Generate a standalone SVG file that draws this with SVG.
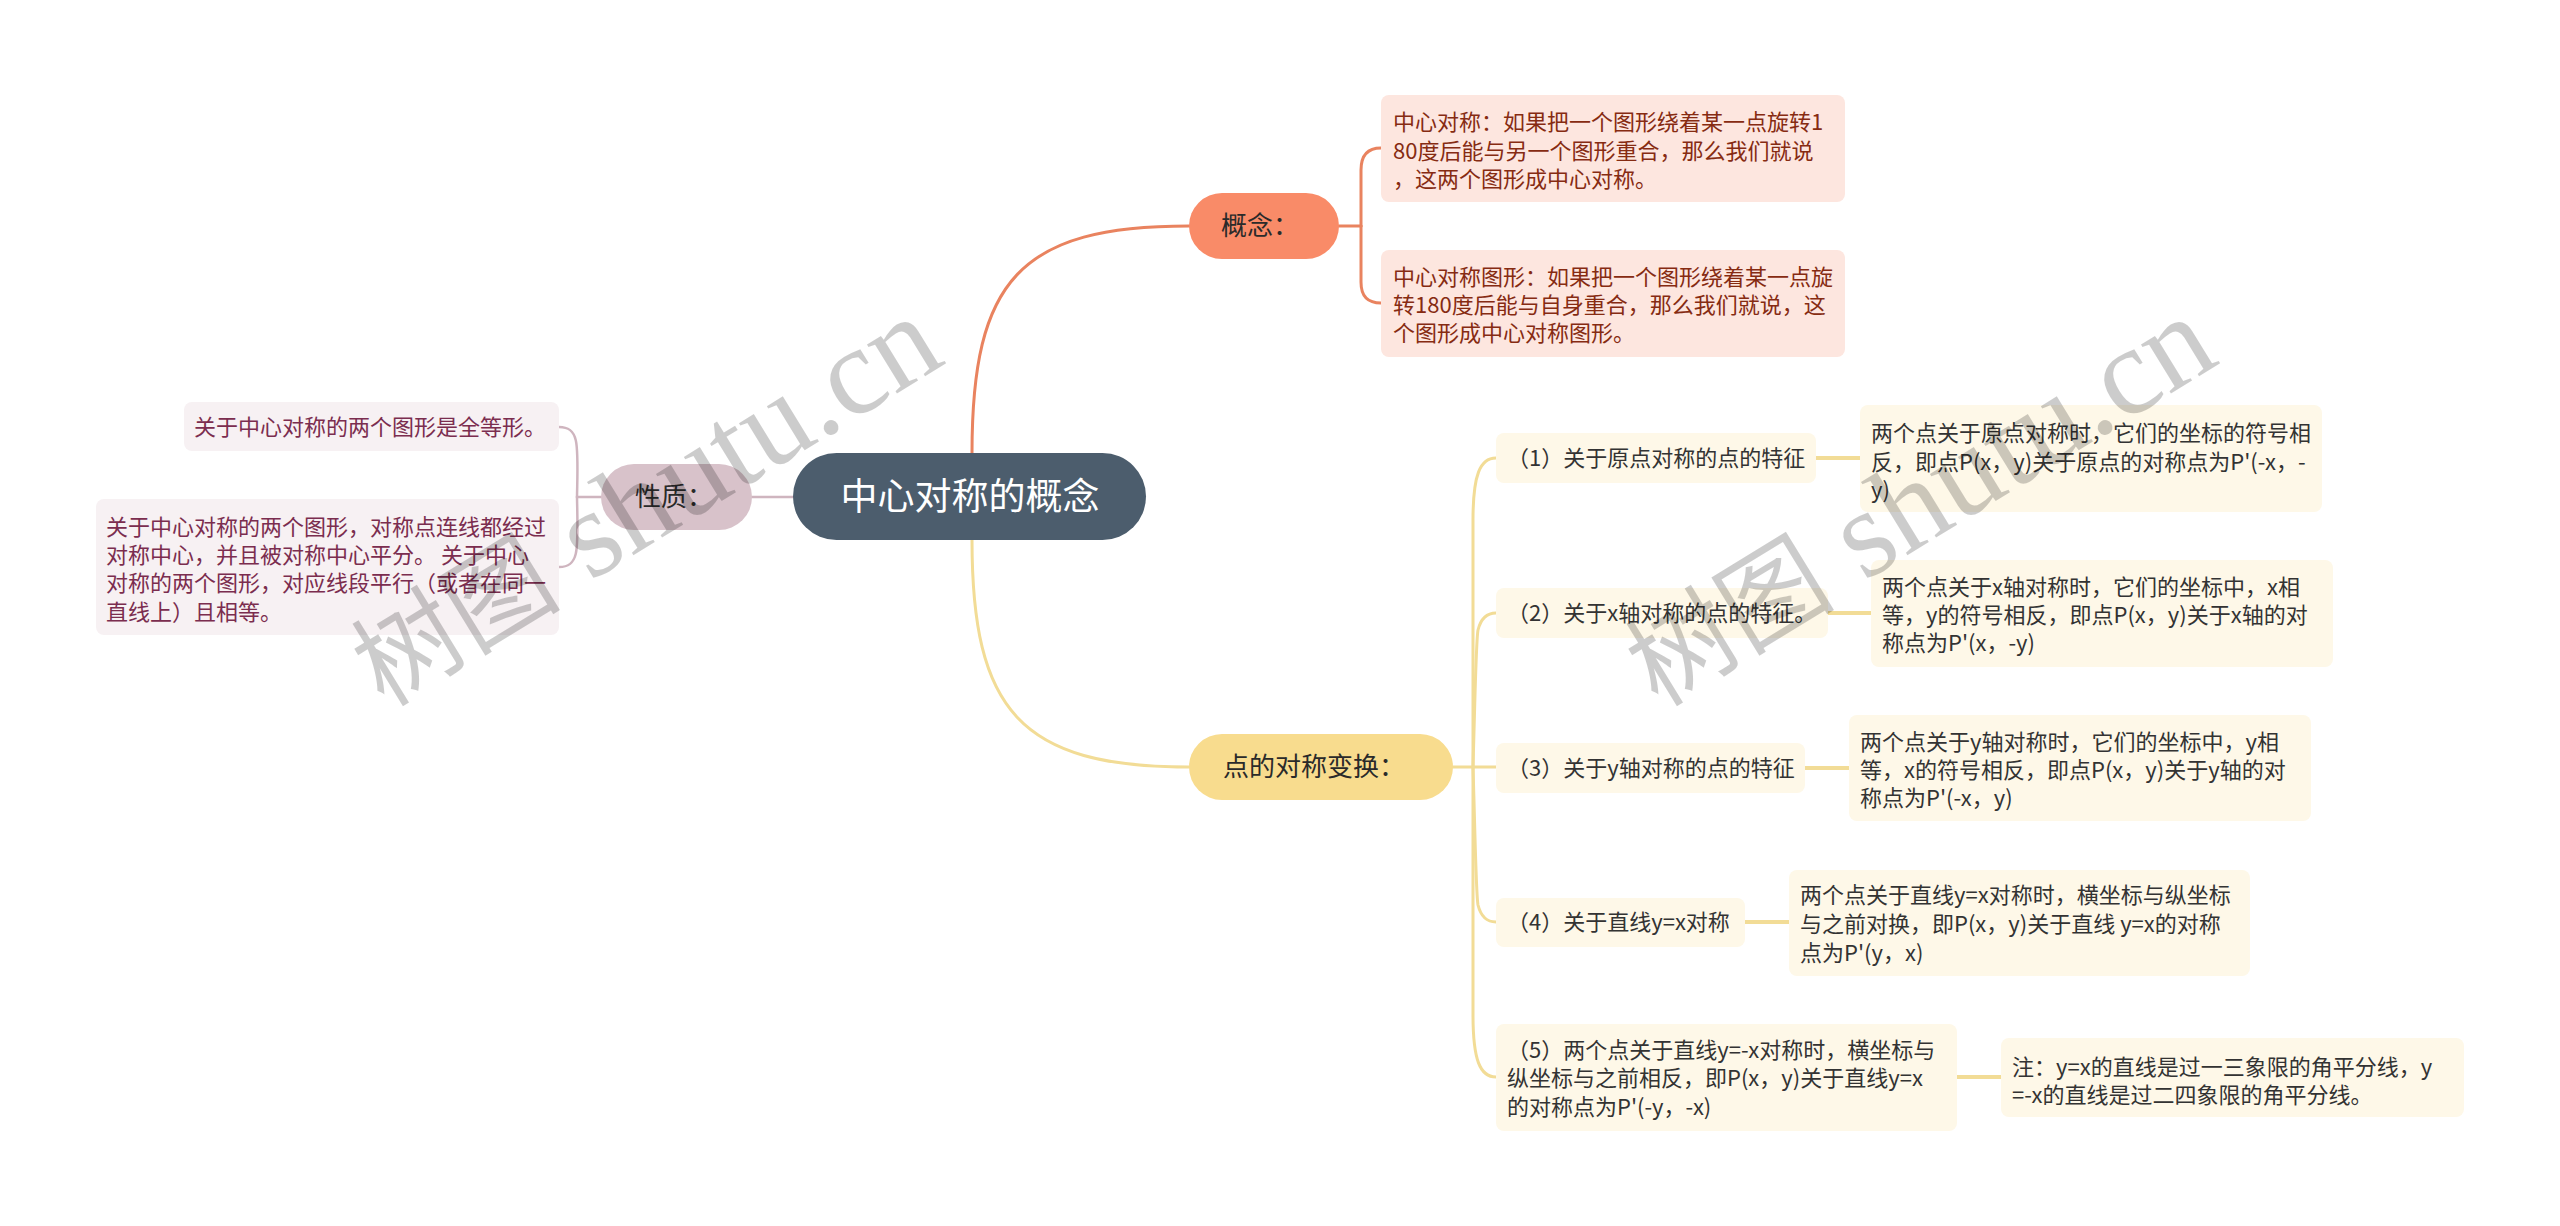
<svg xmlns="http://www.w3.org/2000/svg" width="2560" height="1226" viewBox="0 0 2560 1226">
<style>
text{font-family:"Noto Sans CJK SC","Microsoft YaHei",sans-serif;}
.conn{fill:none;stroke-linecap:round;}
.or{stroke:#e9835f;stroke-width:3;}
.ye{stroke:#f2dc96;stroke-width:3;}
.yet{stroke:#f2dc96;stroke-width:4;}
.pk{stroke:#cfb5bf;stroke-width:2.5;}
.root{fill:#4c5d6d;}
.rootT{fill:#ffffff;font-size:37px;}
.mainT{fill:#2a2a2a;font-size:26px;}
.cpt{fill:#fde6df;}
.cptT{fill:#862b12;font-size:22px;}
.yb{fill:#fef8e8;}
.ybT{fill:#333333;font-size:22px;}
.pb{fill:#f7f1f3;}
.pbT{fill:#7b2d4f;font-size:22px;}
.wm{fill:#000000;fill-opacity:0.2;font-family:"Liberation Serif","Noto Sans CJK SC",serif;font-size:125px;}
.wmc{font-size:105px;}
</style>

<g id="connectors">
  <path class="conn or" d="M972,453 C972,280 1020,226 1189,226"/>
  <path class="conn or" d="M1339,226 L1361,226"/>
  <path class="conn or" d="M1361,226 L1361,170 C1361,155 1368,148 1381,148"/>
  <path class="conn or" d="M1361,226 L1361,282 C1361,297 1368,303 1381,303"/>

  <path class="conn ye" d="M972,540 C972,710 1020,767 1189,767"/>
  <path class="conn ye" d="M1453,767 L1473,767"/>
  <path class="conn ye" d="M1473,767 L1473,520 C1473,475 1480,458 1496,458"/>
  <path class="conn ye" d="M1473,767 C1475,700 1476,640 1478,630 C1481,618 1488,613 1496,613"/>
  <path class="conn ye" d="M1473,767 L1496,767"/>
  <path class="conn ye" d="M1473,767 C1475,830 1476,895 1478,905 C1481,917 1488,922 1496,922"/>
  <path class="conn ye" d="M1473,767 L1473,1015 C1473,1060 1480,1077 1496,1077"/>
  <path class="conn yet" d="M1816,458 L1860,458"/>
  <path class="conn yet" d="M1828,613 L1871,613"/>
  <path class="conn yet" d="M1805,768 L1849,768"/>
  <path class="conn yet" d="M1745,922 L1789,922"/>
  <path class="conn yet" d="M1957,1077 L2001,1077"/>

  <path class="conn pk" d="M793,497 L752,497"/>
  <path class="conn pk" d="M601,497 L577,497"/>
  <path class="conn pk" d="M577,497 C578,445 580,427 559,427"/>
  <path class="conn pk" d="M577,497 C578,549 580,567 559,567"/>
</g>

<g id="root">
  <rect class="root" x="793" y="453" width="353" height="87" rx="43.5"/>
  <text class="rootT" x="970" y="510" text-anchor="middle">中心对称的概念</text>
</g>

<g id="node-gainian">
  <rect x="1189" y="193" width="150" height="66" rx="33" fill="#f98b68"/>
  <text class="mainT" x="1221" y="235">概念：</text>
</g>
<g id="node-gainian-1">
  <rect class="cpt" x="1381" y="95" width="464" height="107" rx="8"/>
  <text class="cptT" x="1393" y="130">中心对称：如果把一个图形绕着某一点旋转1</text>
  <text class="cptT" x="1393" y="159">80度后能与另一个图形重合，那么我们就说</text>
  <text class="cptT" x="1393" y="187">，这两个图形成中心对称。</text>
</g>
<g id="node-gainian-2">
  <rect class="cpt" x="1381" y="250" width="464" height="107" rx="8"/>
  <text class="cptT" x="1393" y="285">中心对称图形：如果把一个图形绕着某一点旋</text>
  <text class="cptT" x="1393" y="313">转180度后能与自身重合，那么我们就说，这</text>
  <text class="cptT" x="1393" y="341">个图形成中心对称图形。</text>
</g>

<g id="node-xingzhi">
  <rect x="601" y="464" width="151" height="66" rx="33" fill="#d8c2ca"/>
  <text class="mainT" x="635" y="506">性质：</text>
</g>
<g id="node-xingzhi-1">
  <rect class="pb" x="184" y="402" width="375" height="49" rx="8"/>
  <text class="pbT" x="194" y="435">关于中心对称的两个图形是全等形。</text>
</g>
<g id="node-xingzhi-2">
  <rect class="pb" x="96" y="499" width="463" height="136" rx="8"/>
  <text class="pbT" x="106" y="535">关于中心对称的两个图形，对称点连线都经过</text>
  <text class="pbT" x="106" y="563">对称中心，并且被对称中心平分。 关于中心</text>
  <text class="pbT" x="106" y="591">对称的两个图形，对应线段平行（或者在同一</text>
  <text class="pbT" x="106" y="620">直线上）且相等。</text>
</g>

<g id="node-bianhuan">
  <rect x="1189" y="734" width="264" height="66" rx="33" fill="#f8dc8e"/>
  <text class="mainT" x="1223" y="776">点的对称变换：</text>
</g>

<g id="node-item1">
  <rect class="yb" x="1496" y="433" width="320" height="50" rx="8"/>
  <text class="ybT" x="1507" y="466">（1）关于原点对称的点的特征</text>
</g>
<g id="node-item1-detail">
  <rect class="yb" x="1860" y="405" width="462" height="107" rx="8"/>
  <text class="ybT" x="1871" y="441">两个点关于原点对称时，它们的坐标的符号相</text>
  <text class="ybT" x="1871" y="470">反，即点P(x，y)关于原点的对称点为P'(-x，-</text>
  <text class="ybT" x="1871" y="498">y)</text>
</g>

<g id="node-item2">
  <rect class="yb" x="1496" y="588" width="332" height="50" rx="8"/>
  <text class="ybT" x="1507" y="621">（2）关于x轴对称的点的特征。</text>
</g>
<g id="node-item2-detail">
  <rect class="yb" x="1871" y="560" width="462" height="107" rx="8"/>
  <text class="ybT" x="1882" y="595">两个点关于x轴对称时，它们的坐标中，x相</text>
  <text class="ybT" x="1882" y="623">等，y的符号相反，即点P(x，y)关于x轴的对</text>
  <text class="ybT" x="1882" y="651">称点为P'(x，-y)</text>
</g>

<g id="node-item3">
  <rect class="yb" x="1496" y="743" width="309" height="50" rx="8"/>
  <text class="ybT" x="1507" y="776">（3）关于y轴对称的点的特征</text>
</g>
<g id="node-item3-detail">
  <rect class="yb" x="1849" y="715" width="462" height="106" rx="8"/>
  <text class="ybT" x="1860" y="750">两个点关于y轴对称时，它们的坐标中，y相</text>
  <text class="ybT" x="1860" y="778">等，x的符号相反，即点P(x，y)关于y轴的对</text>
  <text class="ybT" x="1860" y="806">称点为P'(-x，y)</text>
</g>

<g id="node-item4">
  <rect class="yb" x="1496" y="898" width="249" height="49" rx="8"/>
  <text class="ybT" x="1507" y="930">（4）关于直线y=x对称</text>
</g>
<g id="node-item4-detail">
  <rect class="yb" x="1789" y="870" width="461" height="106" rx="8"/>
  <text class="ybT" x="1800" y="903">两个点关于直线y=x对称时，横坐标与纵坐标</text>
  <text class="ybT" x="1800" y="932">与之前对换，即P(x，y)关于直线 y=x的对称</text>
  <text class="ybT" x="1800" y="961">点为P'(y，x)</text>
</g>

<g id="node-item5">
  <rect class="yb" x="1496" y="1024" width="461" height="107" rx="8"/>
  <text class="ybT" x="1507" y="1058">（5）两个点关于直线y=-x对称时，横坐标与</text>
  <text class="ybT" x="1507" y="1086">纵坐标与之前相反，即P(x，y)关于直线y=x</text>
  <text class="ybT" x="1507" y="1115">的对称点为P'(-y，-x)</text>
</g>
<g id="node-item5-detail">
  <rect class="yb" x="2001" y="1038" width="463" height="79" rx="8"/>
  <text class="ybT" x="2012" y="1075">注：y=x的直线是过一三象限的角平分线，y</text>
  <text class="ybT" x="2012" y="1103">=-x的直线是过二四象限的角平分线。</text>
</g>

<g id="watermarks">
  <text class="wm" transform="translate(384,708) rotate(-31.5)"><tspan class="wmc">树图</tspan> shutu.cn</text>
  <text class="wm" transform="translate(1658,708) rotate(-31.5)"><tspan class="wmc">树图</tspan> shutu.cn</text>
</g>
</svg>
